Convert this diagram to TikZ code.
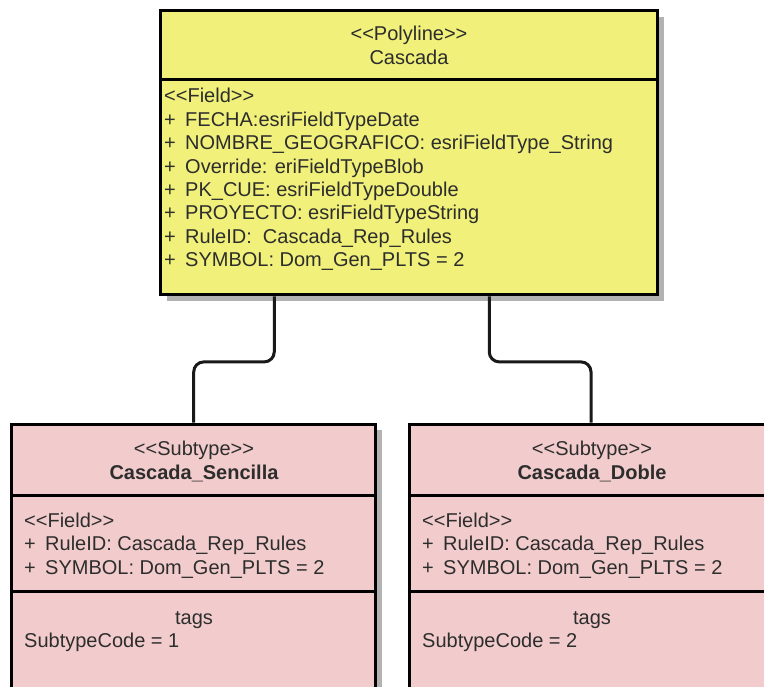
\documentclass[tikz,border=0pt]{standalone}
\usepackage{fontspec}
\setmainfont{Liberation Sans}
\usetikzlibrary{shadows}
\definecolor{umlyellow}{RGB}{240,240,122}
\definecolor{umlpink}{RGB}{242,204,204}
\definecolor{txtgray}{RGB}{45,45,45}
\tikzset{
  umlbox/.style={draw=black, line width=3pt, inner sep=0pt, rectangle,
    drop shadow={shadow xshift=6pt, shadow yshift=-6pt, fill=black!30, opacity=1}},
  divider/.style={draw=black, line width=3pt},
  conn/.style={draw=black!90, line width=3pt, rounded corners=10pt},
  txt/.style={anchor=base west, inner sep=0pt, text=txtgray, font=\fontsize{20}{23}\selectfont},
  ctxt/.style={anchor=base, inner sep=0pt, text=txtgray, font=\fontsize{20}{23}\selectfont},
}
\newcommand{\plusline}[1]{\makebox[21pt][l]{+}#1}
\begin{document}
\begin{tikzpicture}[x=1pt,y=-1pt]
\useasboundingbox (0,0) rectangle (764,687);
\clip (0,0) rectangle (764,687);
% top class
\node[umlbox, fill=umlyellow, minimum width=497pt, minimum height=284pt] (cas) at (409.25,152.9) {};
\draw[divider] ([yshift=-70pt]cas.north west) -- ([yshift=-70pt]cas.north east);
\node[ctxt] (casst) at (409,41) {<{}<Polyline>{}>};
\node[ctxt] (casnm) at (409,64.5) {Cascada};
\node[txt] (f0) at (164,103) {<{}<Field>{}>};
\node[txt] (f1) at (164,126.4) {\plusline{FECHA:esriFieldTypeDate}};
\node[txt] (f2) at (164,149.7) {\plusline{NOMBRE\_GEOGRAFICO: esriFieldType\_String}};
\node[txt] (f3) at (164,173.1) {\plusline{Override: eriFieldTypeBlob}};
\node[txt] (f4) at (164,196.4) {\plusline{PK\_CUE: esriFieldTypeDouble}};
\node[txt] (f5) at (164,219.8) {\plusline{PROYECTO: esriFieldTypeString}};
\node[txt] (f6) at (164,243.2) {\plusline{RuleID:\ \ Cascada\_Rep\_Rules}};
\node[txt] (f7) at (164,266.5) {\plusline{SYMBOL: Dom\_Gen\_PLTS = 2}};
% left subtype
\node[umlbox, fill=umlpink, minimum width=364pt, minimum height=300pt] (sen) at (193.7,574) {};
\draw[divider] ([yshift=-72.7pt]sen.north west) -- ([yshift=-72.7pt]sen.north east);
\draw[divider] ([yshift=-168.7pt]sen.north west) -- ([yshift=-168.7pt]sen.north east);
\node[ctxt] (senst) at (194,455.5) {<{}<Subtype>{}>};
\node[ctxt, font=\fontsize{20}{23}\selectfont\bfseries] (sennm) at (194,479) {Cascada\_Sencilla};
\node[txt] (sf0) at (24,527) {<{}<Field>{}>};
\node[txt] (sf1) at (24,550.5) {\plusline{RuleID: Cascada\_Rep\_Rules}};
\node[txt] (sf2) at (24,574) {\plusline{SYMBOL: Dom\_Gen\_PLTS = 2}};
\node[ctxt] (sentg) at (194,624) {tags};
\node[txt] (senc) at (24,647) {SubtypeCode = 1};
% right subtype
\node[umlbox, fill=umlpink, minimum width=364pt, minimum height=300pt] (dob) at (591,574) {};
\draw[divider] ([yshift=-72.7pt]dob.north west) -- ([yshift=-72.7pt]dob.north east);
\draw[divider] ([yshift=-168.7pt]dob.north west) -- ([yshift=-168.7pt]dob.north east);
\node[ctxt] (dobst) at (592,455.5) {<{}<Subtype>{}>};
\node[ctxt, font=\fontsize{20}{23}\selectfont\bfseries] (dobnm) at (592,479) {Cascada\_Doble};
\node[txt] (df0) at (422,527) {<{}<Field>{}>};
\node[txt] (df1) at (422,550.5) {\plusline{RuleID: Cascada\_Rep\_Rules}};
\node[txt] (df2) at (422,574) {\plusline{SYMBOL: Dom\_Gen\_PLTS = 2}};
\node[ctxt] (dobtg) at (592,624) {tags};
\node[txt] (dobc) at (422,647) {SubtypeCode = 2};
% connectors
\draw[conn] ([xshift=115pt]cas.south west) -- ++(0,65.5) -| (sen.north);
\draw[conn] ([xshift=330pt]cas.south west) -- ++(0,65.5) -| (dob.north);
\end{tikzpicture}
\end{document}
